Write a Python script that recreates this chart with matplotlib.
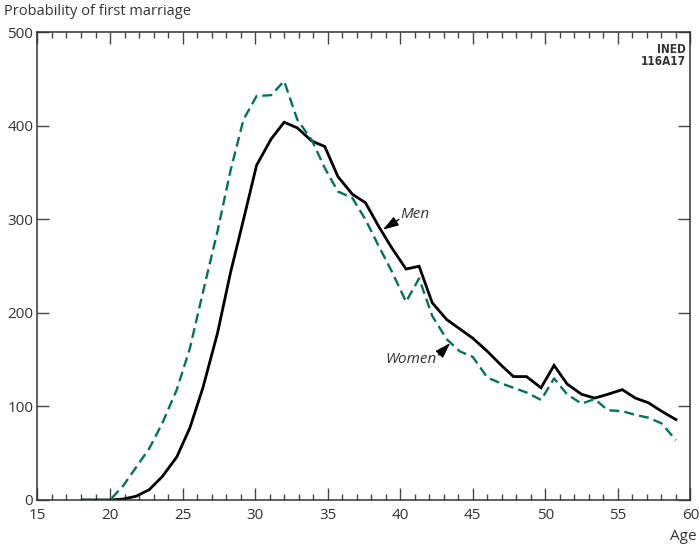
import matplotlib.pyplot as plt
from matplotlib.ticker import MultipleLocator

plt.rcParams['font.family'] = ['Open Sans', 'DejaVu Sans']

# ages of the plotted points
ages = [18.1, 19.0, 20.0, 20.9, 21.8, 22.7, 23.6, 24.6, 25.5, 26.4,
        27.4, 28.3, 29.2, 30.1, 31.1, 32.0, 32.9, 33.9, 34.8, 35.7,
        36.7, 37.6, 38.5, 39.4, 40.4, 41.3, 42.2, 43.2, 44.1, 45.0,
        46.0, 46.9, 47.8, 48.7, 49.7, 50.6, 51.5, 52.5, 53.4, 54.3,
        55.3, 56.2, 57.1, 58.0, 59.0]

men = [0, 0, 0, 1, 4, 11, 25, 46, 77, 120,
       178, 243, 300, 358, 386, 404, 398, 384, 378, 346,
       327, 318, 293, 270, 247, 250, 211, 193, 183, 173,
       159, 145, 132, 132, 120, 144, 124, 113, 109, 113,
       118, 109, 104, 95, 86]

women = [0, 0, 0, 15, 35, 55, 82, 118, 162, 222,
         287, 352, 407, 432, 433, 448, 407, 385, 355, 330,
         323, 300, 272, 245, 212, 237, 197, 172, 159, 153,
         131, 125, 120, 115, 107, 130, 113, 103, 108, 96,
         95, 91, 88, 82, 64]

xticks = [15, 20, 25, 30, 35, 40, 45, 50, 55, 60]
yticks = [0, 100, 200, 300, 400, 500]

fig = plt.figure(figsize=(6.99, 5.45), dpi=100)
ax = fig.add_axes([0.0536, 0.0826, 0.9342, 0.8578])

ax.plot(ages, men, color='black', lw=2.0, solid_joinstyle='miter')
ax.plot(ages, women, color='#00735a', lw=1.7, dashes=(4.2, 2.2))

ax.set_xlim(15, 60)
ax.set_ylim(0, 500)
ax.set_xticks(xticks)
ax.set_yticks(yticks)
ax.xaxis.set_minor_locator(MultipleLocator(1))

ax.tick_params(axis='both', which='major', direction='in', length=8.5, width=1.0,
               color='#444444', labelsize=11, labelcolor='#333333')
ax.tick_params(axis='x', which='major', top=True, pad=6)
ax.tick_params(axis='x', which='minor', direction='in', top=True, length=4.5,
               width=1.0, color='#444444')
ax.tick_params(axis='y', which='major', right=True, pad=3)

for s in ax.spines.values():
    s.set_color('#333333')
    s.set_linewidth(1.1)

arrow = dict(arrowstyle='-|>,head_length=0.95,head_width=0.3', color='black',
             lw=1, mutation_scale=10, shrinkA=0, shrinkB=0)
ax.text(40.0, 305, 'Men', fontsize=11, style='italic', color='#333333',
        va='center', ha='left')
ax.annotate('', xy=(38.8, 289), xytext=(39.9, 300), arrowprops=arrow)
ax.text(42.5, 150, 'Women', fontsize=11, style='italic', color='#333333',
        va='center', ha='right')
ax.annotate('', xy=(43.45, 168), xytext=(42.65, 155), arrowprops=arrow)

fig.text(0.006, 0.978, 'Probability of first marriage', fontsize=10.5,
         color='#333333', ha='left', va='center')
fig.text(0.977, 0.015, 'Age', fontsize=11, color='#333333',
         ha='center', va='center')
ax.text(0.993, 0.978, 'INED\n116A17', transform=ax.transAxes, fontsize=8.5,
        family=['Liberation Sans Narrow', 'DejaVu Sans'],
        fontstretch='condensed', fontweight='bold',
        ha='right', va='top', linespacing=0.95, color='#333333')

fig.savefig('out.png', dpi=100)
